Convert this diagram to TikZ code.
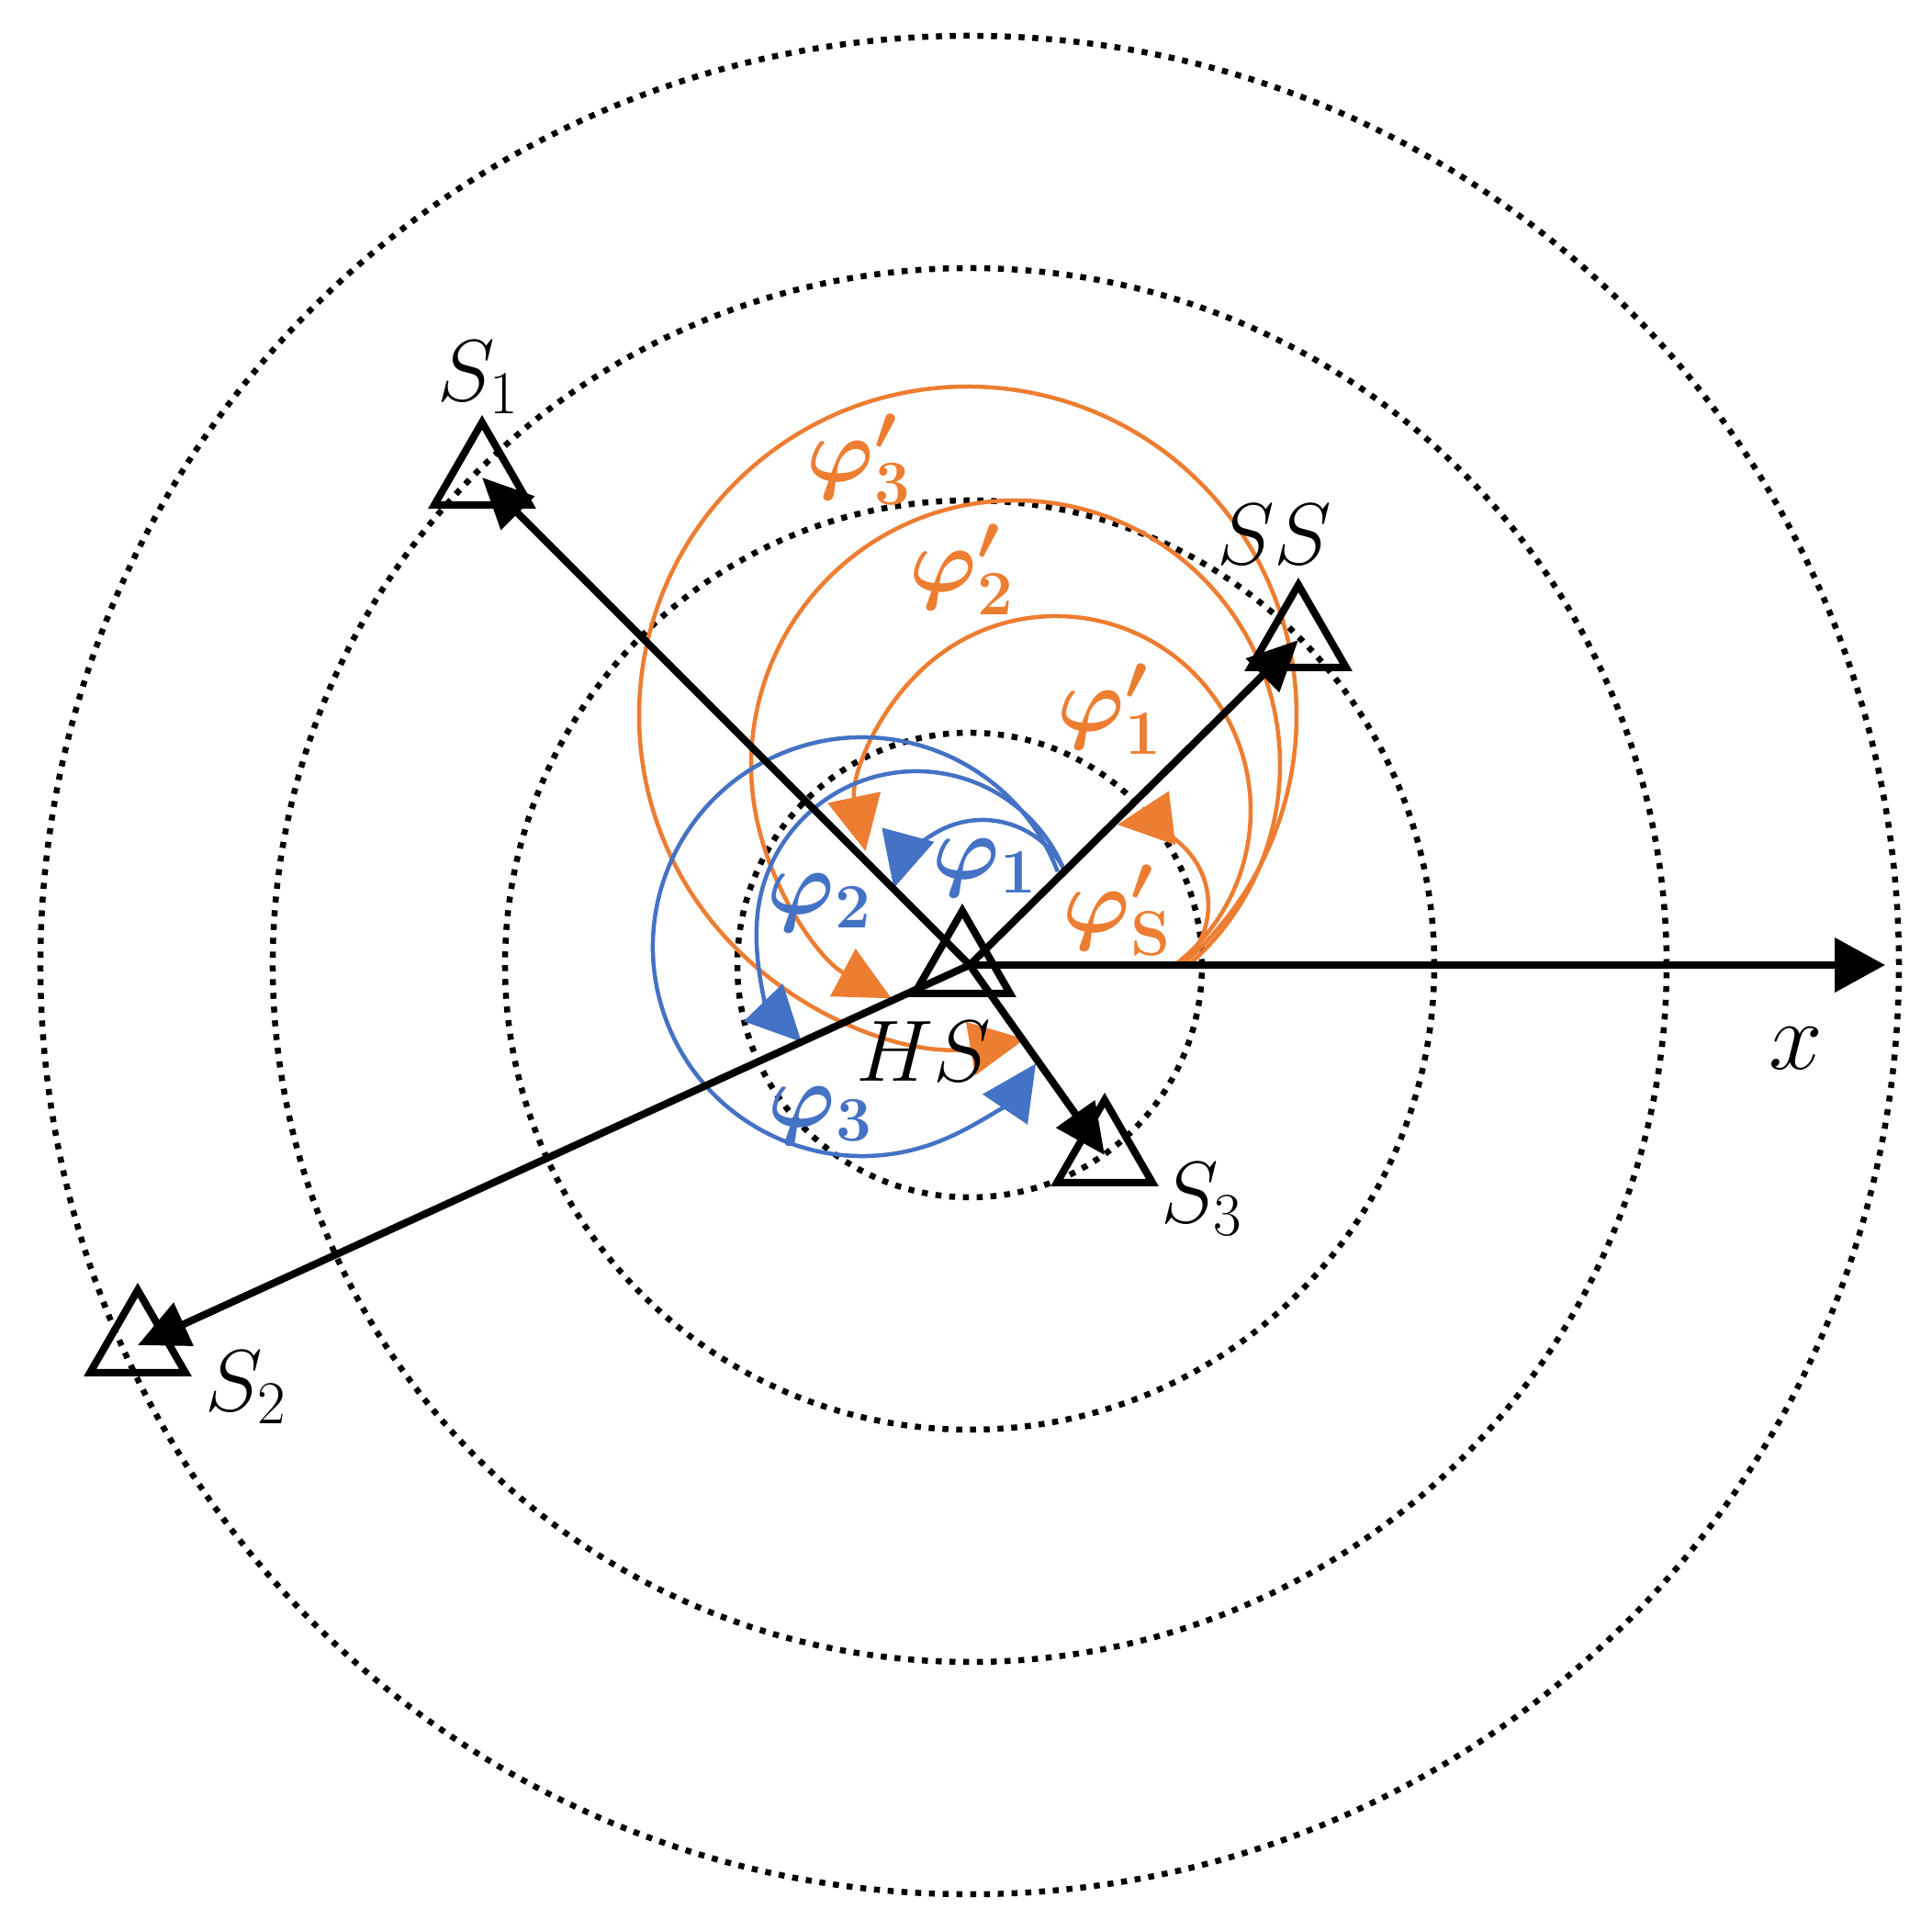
\RequirePackage{fix-cm}
\documentclass[tikz,border=0pt]{standalone}
\usepackage{bm}
\usetikzlibrary{arrows.meta,shapes.geometric}
\definecolor{oarc}{RGB}{237,125,49}
\definecolor{barc}{RGB}{68,114,196}
\newcommand{\ringstep}{2.53}
\newcommand{\rayw}{0.08cm}
\newcommand{\arcw}{0.045cm}

\begin{document}
\begin{tikzpicture}[
  station/.style={draw, regular polygon, regular polygon sides=3, minimum size=1.2cm, inner sep=0pt, line width=\rayw},
  ray/.style={line width=\rayw, -{Triangle[length=5.5mm,width=5mm]}},
  ring/.style={line width=0.065cm, dash pattern=on 0.065cm off 0.085cm},
  turn/.style={line width=\arcw, -{Triangle[length=6mm,width=5.8mm]}},
  lbl/.style={inner sep=0pt, font=\fontsize{27}{30}\selectfont},
  ang/.style={inner sep=0pt, font=\fontsize{28}{30}\selectfont}
]
\useasboundingbox (-10.56,-10.40) rectangle (10.48,10.51);
\coordinate (O) at (0,0);
\coordinate (xend) at (9.97,0);
%rings
\foreach \k in {1,...,4}
  \draw[ring] (O) circle ({\k*\ringstep});
%phi' (from x)
\draw[turn, oarc] ([shift={(-47.7:0.883)}]1.716,0.653) arc[start angle=-47.7, end angle=96.9, radius=0.883];
\draw[turn, oarc] ([shift={(-52.4:2.12)}]0.94,1.68) arc[start angle=-52.4, end angle=192, radius=2.12];
\draw[turn, oarc] ([shift={(-49.2:2.88)}]0.50,2.18) arc[start angle=-49.2, end angle=242, radius=2.88];
\draw[turn, oarc] ([shift={(-49.4:3.58)}]-0.02,2.72) arc[start angle=-49.4, end angle=280, radius=3.58];
%phi (from SS)
\draw[turn, barc] ([shift={(27:1.0)}]0.14,0.58) arc[start angle=27, end angle=165, radius=1.0];
\draw[turn, barc] ([shift={(22:1.74)}]-0.58,0.37) arc[start angle=22, end angle=224, radius=1.74];
\draw[turn, barc] ([shift={(21:2.28)}]-1.17,0.20) arc[start angle=21, end angle=326, radius=2.28];
%stations
\node[station] (HS) at (-0.08,-0.01) {};
\node[station] (S1) at (-5.31,5.31) {};
\node[station] (S2) at (-9.06,-4.14) {};
\node[station] (S3) at (1.47,-2.07) {};
\node[station] (SS) at (3.58,3.54) {};
%rays
\draw[ray] (O) -- (S1.center);
\draw[ray] (O) -- (S2.center);
\draw[ray] (O) -- (S3.center);
\draw[ray] (O) -- (SS.center);
\draw[line width=\rayw, -{Triangle[length=5.5mm,width=5.8mm]}] (O) -- (xend);
%labels
\node[lbl] (S1lbl) at (-5.35,6.40) {$S_1$};
\node[lbl] (S2lbl) at (-7.88,-4.60) {$S_2$};
\node[lbl] (S3lbl) at (2.53,-2.55) {$S_3$};
\node[lbl] (SSlbl) at (3.32,4.69) {$SS$};
\node[lbl] (HSlbl) at (-0.50,-0.94) {$HS$};
\node[lbl, font=\fontsize{30}{32}\selectfont] (xlbl) at (9.00,-0.91) {$x$};
\node[ang, oarc] (p3) at (-1.20,5.51) {$\bm{\varphi'_3}$};
\node[ang, oarc] (p2) at (-0.08,4.31) {$\bm{\varphi'_2}$};
\node[ang, oarc] (p1) at (1.53,2.79) {$\bm{\varphi'_1}$};
\node[ang, oarc] (ps) at (1.61,0.60) {$\bm{\varphi'_{\mathrm{S}}}$};
\node[ang, barc] (f1) at (0.17,1.06) {$\bm{\varphi_1}$};
\node[ang, barc] (f2) at (-1.63,0.68) {$\bm{\varphi_2}$};
\node[ang, barc] (f3) at (-1.62,-1.64) {$\bm{\varphi_3}$};
\end{tikzpicture}
\end{document}
